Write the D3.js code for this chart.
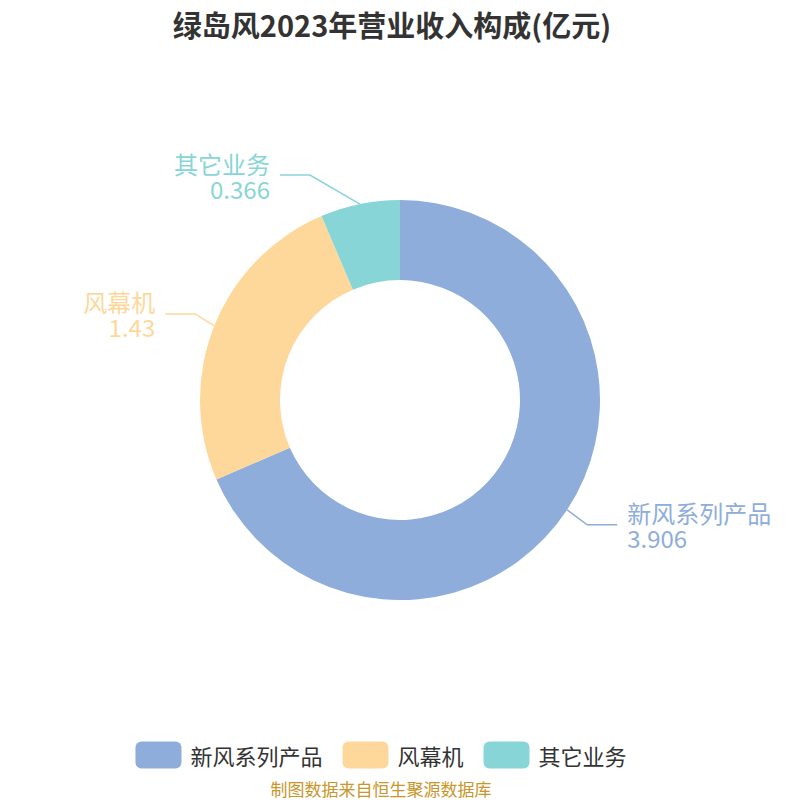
<!DOCTYPE html>
<html><head><meta charset="utf-8">
<script src="https://cdn.jsdelivr.net/npm/d3@7"></script>
<style>body{margin:0;background:#fff}svg{display:block}text{font-family:"Noto Sans CJK SC","Noto Sans",sans-serif}</style>
</head><body>
<svg id="c" width="800" height="800"></svg>
<script>
const title = "绿岛风2023年营业收入构成(亿元)";
const categories = ["新风系列产品", "风幕机", "其它业务"];
const values = [3.906, 1.43, 0.366];
const colors = ["#8eaddb", "#fed89b", "#88d5d8"];
// label-line elbow offsets from the slice's outer mid point (layout style)
const labelElbow = [[20, 15], [-19, -12], [-50, -29]];
const source = "制图数据来自恒生聚源数据库";

const svg = d3.select("#c");
const cx = 400, cy = 400, rOuter = 200, rInner = 120;

svg.append("text").attr("x", 392).attr("y", 24).attr("text-anchor", "middle")
  .attr("dominant-baseline", "central").attr("font-size", 29).attr("font-weight", "bold")
  .attr("fill", "#333").text(title);

const data = categories.map((c, i) => ({name: c, value: values[i], color: colors[i], el: labelElbow[i]}));
const pie = d3.pie().value(d => d.value).sort(null);
const arcs = pie(data);
const arc = d3.arc().innerRadius(rInner).outerRadius(rOuter);
const g = svg.append("g").attr("transform", `translate(${cx},${cy})`);
g.selectAll("path").data(arcs).join("path").attr("d", arc).attr("fill", d => d.data.color);

arcs.forEach(a => {
  const m = (a.startAngle + a.endAngle) / 2;
  const sx = Math.sin(m), sy = -Math.cos(m);
  const p0 = [rOuter * sx, rOuter * sy];
  const p1 = [p0[0] + a.data.el[0], p0[1] + a.data.el[1]];
  const right = sx > 0;
  const p2 = [p1[0] + (right ? 30 : -30), p1[1]];
  g.append("polyline").attr("points", [p0, p1, p2].map(p => p.join(",")).join(" "))
    .attr("fill", "none").attr("stroke", a.data.color).attr("stroke-width", 1.5);
  const tx = p2[0] + (right ? 10 : -10);
  const anchor = right ? "start" : "end";
  g.append("text").attr("x", tx).attr("y", p1[1] - 12).attr("text-anchor", anchor)
    .attr("dominant-baseline", "central").attr("font-size", 24).attr("fill", a.data.color).text(a.data.name);
  g.append("text").attr("x", tx).attr("y", p1[1] + 13).attr("text-anchor", anchor)
    .attr("dominant-baseline", "central").attr("font-size", 24).attr("fill", a.data.color).text(a.data.value);
});

// legend
const lg = svg.append("g");
let x = 0;
data.forEach(d => {
  const it = lg.append("g").attr("transform", `translate(${x},0)`);
  it.append("rect").attr("x", 0).attr("y", -13.5).attr("width", 46).attr("height", 27).attr("rx", 6).attr("fill", d.color);
  const tt = it.append("text").attr("x", 55).attr("y", 0).attr("dominant-baseline", "central")
    .attr("font-size", 22).attr("fill", "#333").text(d.name);
  const w = tt.node().getComputedTextLength();
  x += 55 + w + 20;
});
const totalW = x - 20;
lg.attr("transform", `translate(${381 - totalW / 2},755)`);

svg.append("text").attr("x", 381).attr("y", 788).attr("text-anchor", "middle")
  .attr("dominant-baseline", "central").attr("font-size", 17).attr("fill", "#c8962a").text(source);
</script>
</body></html>
